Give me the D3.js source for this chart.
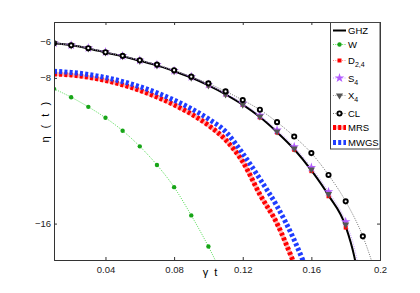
<!DOCTYPE html>
<html>
<head>
<meta charset="utf-8">
<script src="https://cdn.jsdelivr.net/npm/d3@7"></script>
<style>
  body { margin: 0; background: #fff; }
  svg { font-family: "Liberation Sans", Arial, sans-serif; }
</style>
</head>
<body>
<script>
// values, t = gamma*t
const tMarks = [0.01,0.02,0.03,0.04,0.05,0.06,0.07,0.08,0.09,0.10,0.11,0.12,0.13,0.14,0.15,0.16,0.17,0.18,0.19];
const tFine = [0.01,0.02,0.03,0.04,0.05,0.06,0.07,0.08,0.09,0.10,0.11,0.12,0.13,0.14,0.15,0.16,0.17,0.18,0.185,0.19];
const ghzVals = [-6.10,-6.21,-6.38,-6.60,-6.81,-7.06,-7.31,-7.63,-7.98,-8.41,-8.90,-9.47,-10.15,-10.98,-11.92,-13.08,-14.45,-16.15,-17.8,-20.5];
const d24Vals = [-6.10,-6.21,-6.38,-6.60,-6.81,-7.06,-7.31,-7.63,-7.98,-8.41,-8.90,-9.47,-10.17,-11.00,-11.95,-13.12,-14.50,-16.22];
const s4Vals  = [-6.09,-6.20,-6.36,-6.58,-6.79,-7.03,-7.28,-7.60,-7.94,-8.36,-8.84,-9.40,-10.06,-10.87,-11.78,-12.92,-14.25,-15.90,-17.3,-19.6];
const x4Vals  = [-6.10,-6.21,-6.38,-6.60,-6.81,-7.06,-7.31,-7.63,-7.98,-8.41,-8.90,-9.47,-10.12,-10.94,-11.88,-13.03,-14.38,-16.05];
const clVals  = [-6.10,-6.21,-6.37,-6.59,-6.79,-7.03,-7.27,-7.58,-7.93,-8.30,-8.74,-9.22,-9.75,-10.43,-11.22,-12.13,-13.33,-14.78,-16.70];
const clTail  = [0.20, -19.5];
const tW = [0.01,0.02,0.03,0.04,0.05,0.06,0.07,0.08,0.09,0.10,0.11];
const wVals = [-8.60,-9.06,-9.59,-10.19,-10.90,-11.76,-12.78,-14.00,-15.55,-17.26,-19.2];
const tM = [0.01,0.02,0.03,0.04,0.05,0.06,0.07,0.08,0.09,0.10,0.11,0.12,0.13,0.14,0.15,0.16];
const mrsVals  = [-7.78,-7.84,-7.96,-8.14,-8.38,-8.68,-9.05,-9.48,-9.98,-10.60,-11.40,-12.60,-14.40,-16.00,-18.20,-20.5];
const mwgsVals = [-7.64,-7.70,-7.81,-7.98,-8.20,-8.48,-8.82,-9.22,-9.69,-10.25,-10.95,-12.15,-13.55,-15.05,-16.90,-19.2];
const xTicks = [0.04,0.08,0.12,0.16,0.2];
const xTickLabels = ["0.04","0.08","0.12","0.16","0.2"];
const yTicks = [-6,-8,-16];
const legendNames = ["GHZ","W","D","S","X","CL","MRS","MWGS"];
const legendSubs  = ["","","2,4","4","4","","",""];

const W = 420, H = 293;
const m = {left: 54, right: 40, top: 22, bottom: 33};

const svg = d3.select("body").append("svg")
  .attr("width", W).attr("height", H);
svg.append("rect").attr("width", W).attr("height", H).attr("fill", "#fff");

const x = d3.scaleLinear().domain([0.01, 0.2]).range([m.left, W - m.right]);
const y = d3.scaleLinear().domain([-18, -4.93]).range([H - m.bottom, m.top]);

svg.append("clipPath").attr("id", "clip")
  .append("rect")
  .attr("x", m.left).attr("y", m.top)
  .attr("width", W - m.left - m.right).attr("height", H - m.top - m.bottom);

const plot = svg.append("g").attr("clip-path", "url(#clip)");

function pts(ts, vs) { return vs.map((v, i) => [ts[i], v]); }
const line = d3.line().x(d => x(d[0])).y(d => y(d[1])).curve(d3.curveMonotoneX);

// thick dashed curves
plot.append("path").attr("d", line(pts(tM, mrsVals)))
  .attr("fill", "none").attr("stroke", "#ffb3b3").attr("stroke-width", 4);
plot.append("path").attr("d", line(pts(tM, mrsVals)))
  .attr("fill", "none").attr("stroke", "#ff0000").attr("stroke-width", 5)
  .attr("stroke-dasharray", "3,2.2");
plot.append("path").attr("d", line(pts(tM, mwgsVals)))
  .attr("fill", "none").attr("stroke", "#1f3dff").attr("stroke-width", 5)
  .attr("stroke-dasharray", "3,2.2");

// W
plot.append("path").attr("d", line(pts(tW, wVals)))
  .attr("fill", "none").attr("stroke", "#55dd55").attr("stroke-width", 1)
  .attr("stroke-dasharray", "1,1.3");
plot.selectAll(".wdot").data(pts(tW, wVals)).enter().append("circle")
  .attr("cx", d => x(d[0])).attr("cy", d => y(d[1])).attr("r", 2.2)
  .attr("fill", "#17a517");

// lines of the GHZ family
plot.append("path").attr("d", line(pts(tFine, ghzVals)))
  .attr("fill", "none").attr("stroke", "#000").attr("stroke-width", 2);
plot.append("path").attr("d", line(pts(tFine, s4Vals)))
  .attr("fill", "none").attr("stroke", "#c699ff").attr("stroke-width", 1)
  .attr("stroke-dasharray", "1,1.3");
plot.append("path").attr("d", line(pts(tMarks.concat([clTail[0]]), clVals.concat([clTail[1]]))))
  .attr("fill", "none").attr("stroke", "#777").attr("stroke-width", 1)
  .attr("stroke-dasharray", "1,1.3");

// markers
plot.selectAll(".sq").data(pts(tMarks, d24Vals)).enter().append("rect")
  .attr("x", d => x(d[0]) - 2).attr("y", d => y(d[1]) - 2)
  .attr("width", 4).attr("height", 4).attr("fill", "#ff0000");
const star = d3.symbol().type(d3.symbolStar).size(28);
plot.selectAll(".st").data(pts(tMarks, s4Vals.slice(0, 18))).enter().append("path")
  .attr("d", star)
  .attr("transform", d => `translate(${x(d[0])},${y(d[1])})`)
  .attr("fill", "#b35cff");
const tri = d3.symbol().type(d3.symbolTriangle).size(22);
plot.selectAll(".tr").data(pts(tMarks, x4Vals)).enter().append("path")
  .attr("d", tri)
  .attr("transform", d => `translate(${x(d[0])},${y(d[1])}) rotate(180)`)
  .attr("fill", "#555");
plot.selectAll(".cl").data(pts(tMarks, clVals)).enter().append("circle")
  .attr("cx", d => x(d[0])).attr("cy", d => y(d[1])).attr("r", 2.1)
  .attr("fill", "#fff").attr("stroke", "#000").attr("stroke-width", 1.9);

// axes (box, inward ticks)
const axCol = "#333";
svg.append("g").attr("transform", `translate(0,${H - m.bottom})`)
  .call(d3.axisBottom(x).tickValues(xTicks).tickSize(-3).tickPadding(6)
    .tickFormat((d, i) => xTickLabels[i]));
svg.append("g").attr("transform", `translate(0,${m.top})`)
  .call(d3.axisTop(x).tickValues(xTicks).tickSize(-3).tickFormat(""));
svg.append("g").attr("transform", `translate(${m.left},0)`)
  .call(d3.axisLeft(y).tickValues(yTicks).tickSize(-3).tickPadding(3));
svg.append("g").attr("transform", `translate(${W - m.right},0)`)
  .call(d3.axisRight(y).tickValues(yTicks).tickSize(-3).tickFormat(""));
svg.selectAll(".domain").attr("stroke", axCol);
svg.selectAll(".tick line").attr("stroke", axCol);
svg.selectAll(".tick text").attr("fill", "#222").attr("font-size", 9.5)
  .attr("font-family", "Liberation Sans, Arial, sans-serif");

// axis titles
svg.append("text").attr("x", 210).attr("y", 276).attr("text-anchor", "middle")
  .attr("font-size", 11).attr("fill", "#000").attr("xml:space", "preserve").text("γ  t");
svg.append("text").attr("transform", "translate(49,121) rotate(-90)")
  .attr("text-anchor", "middle").attr("font-size", 11).attr("fill", "#000")
  .attr("letter-spacing", 2.5)
  .attr("xml:space", "preserve").text("η ( t )");

// legend
const lg = svg.append("g");
lg.append("rect").attr("x", 330.5).attr("y", 22.5).attr("width", 49.5).attr("height", 126.5)
  .attr("fill", "#fff").attr("stroke", "#444").attr("stroke-width", 1);
const legY = [30.5, 44.5, 60.5, 78, 95.5, 113.5, 127.5, 142.5];
const lx0 = 333, lx1 = 346;
legendNames.forEach((name, i) => {
  const yy = legY[i];
  const t = lg.append("text").attr("x", 348).attr("y", yy + 3.5)
    .attr("font-size", 9.5).attr("fill", "#000").text(name);
  if (legendSubs[i]) t.append("tspan").attr("dy", 3).attr("font-size", 7).text(legendSubs[i]);
});
// legend samples
const seg = (yy, col, w, dash) => lg.append("line").attr("x1", lx0).attr("x2", lx1)
  .attr("y1", yy).attr("y2", yy).attr("stroke", col).attr("stroke-width", w)
  .attr("stroke-dasharray", dash || null);
seg(legY[0], "#000", 2);
seg(legY[1], "#55dd55", 1, "1,1.3");
lg.append("circle").attr("cx", 339.5).attr("cy", legY[1]).attr("r", 2.2).attr("fill", "#17a517");
seg(legY[2], "#ff8080", 1, "1,1.3");
lg.append("rect").attr("x", 337.5).attr("y", legY[2] - 2).attr("width", 4).attr("height", 4).attr("fill", "#f00");
seg(legY[3], "#c699ff", 1, "1,1.3");
lg.append("path").attr("d", star).attr("transform", `translate(339.5,${legY[3]})`).attr("fill", "#b35cff");
seg(legY[4], "#999", 1, "1,1.3");
lg.append("path").attr("d", tri).attr("transform", `translate(339.5,${legY[4]}) rotate(180)`).attr("fill", "#555");
seg(legY[5], "#777", 1, "1,1.3");
lg.append("circle").attr("cx", 339.5).attr("cy", legY[5]).attr("r", 2.1)
  .attr("fill", "#fff").attr("stroke", "#000").attr("stroke-width", 1.9);
seg(legY[6], "#ffb3b3", 4);
seg(legY[6], "#f00", 5, "3,2.2");
seg(legY[7], "#1f3dff", 5, "3,2.2");
</script>
</body>
</html>
